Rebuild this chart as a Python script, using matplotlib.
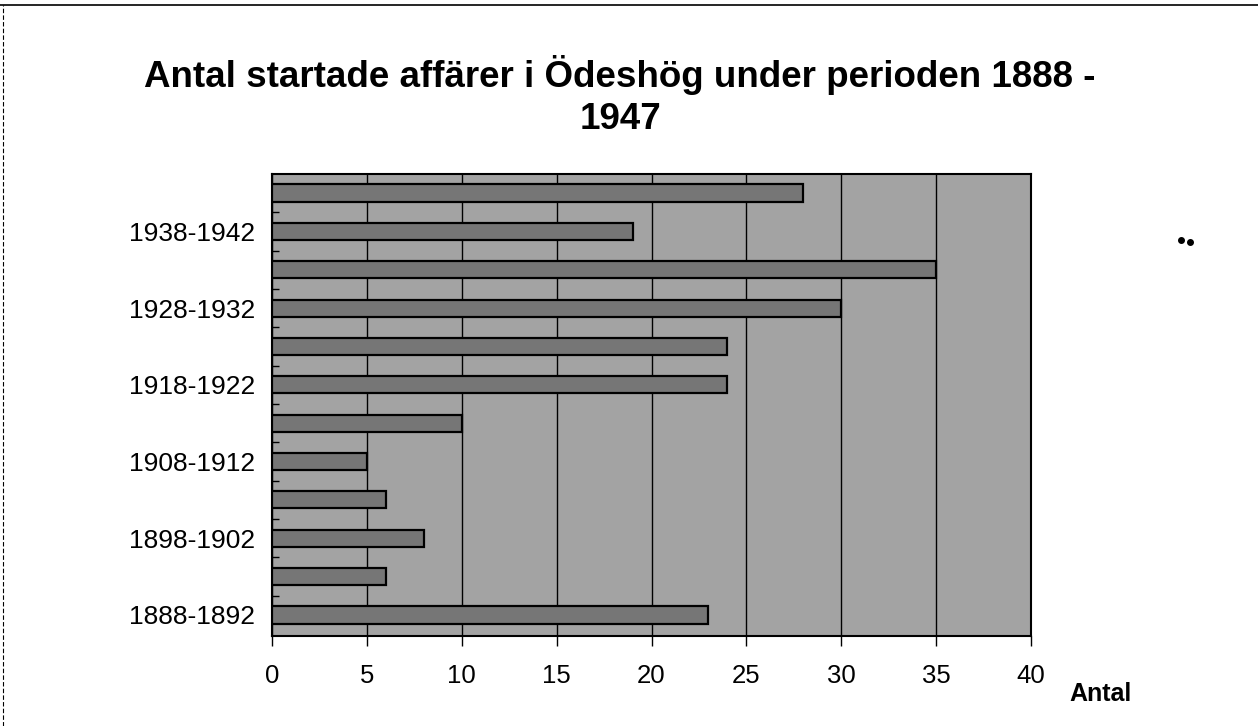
import matplotlib.pyplot as plt
from matplotlib.lines import Line2D

# Data (bottom to top)
periods = ['1888-1892', '1893-1897', '1898-1902', '1903-1907', '1908-1912', '1913-1917',
           '1918-1922', '1923-1927', '1928-1932', '1933-1937', '1938-1942', '1943-1947']
antal = [23, 6, 8, 6, 5, 10, 24, 24, 30, 35, 19, 28]
x_ticks = [0, 5, 10, 15, 20, 25, 30, 35, 40]

plt.rcParams['font.family'] = ['Liberation Sans', 'DejaVu Sans']

fig = plt.figure(figsize=(12.58, 7.26), dpi=100)
ax = fig.add_axes([0.2162, 0.124, 0.6034, 0.6364])

ax.set_facecolor('#a3a3a3')
pos = list(range(len(periods)))
ax.barh(pos, antal, height=0.45, color='#767676', edgecolor='black', linewidth=1.6, zorder=3)

ax.set_xlim(0, 40)
ax.set_ylim(-0.55, 11.5)
ax.set_xticks(x_ticks)
ax.set_xticklabels([str(t) for t in x_ticks], fontsize=18.5)
ax.tick_params(axis='x', direction='out', length=7, width=1, pad=13)

# only every other category gets a label, like the original
ax.set_yticks(pos)
ax.set_yticklabels([p if i % 2 == 0 else '' for i, p in enumerate(periods)], fontsize=19)
ax.tick_params(axis='y', which='major', length=0, pad=12)
ax.set_yticks([i + 0.5 for i in range(len(periods) - 1)], minor=True)
ax.tick_params(axis='y', which='minor', direction='in', length=5, width=1)

ax.grid(axis='x', color='black', linewidth=1, zorder=1)
ax.set_axisbelow(True)
for s in ax.spines.values():
    s.set_linewidth(1.5)

fig.text(0.493, 0.868, 'Antal startade affärer i Ödeshög under perioden 1888 -\n1947',
         ha='center', va='center', fontsize=26.5, fontweight='bold', linespacing=1.25)
fig.text(0.875, 0.044, 'Antal', ha='center', va='center', fontsize=18, fontweight='bold')

# page border of the scanned page
fig.add_artist(Line2D([0, 1], [0.993, 0.993], color='black', linewidth=1.2))
fig.add_artist(Line2D([0.002, 0.002], [0, 0.993], color='black', linewidth=0.8, linestyle=(0, (4, 2))))
# small specks on the scan
fig.add_artist(Line2D([0.9388, 0.9456], [0.669, 0.666], color='black', marker='o', markersize=4, linestyle='none'))

fig.savefig('out.png', dpi=100)
